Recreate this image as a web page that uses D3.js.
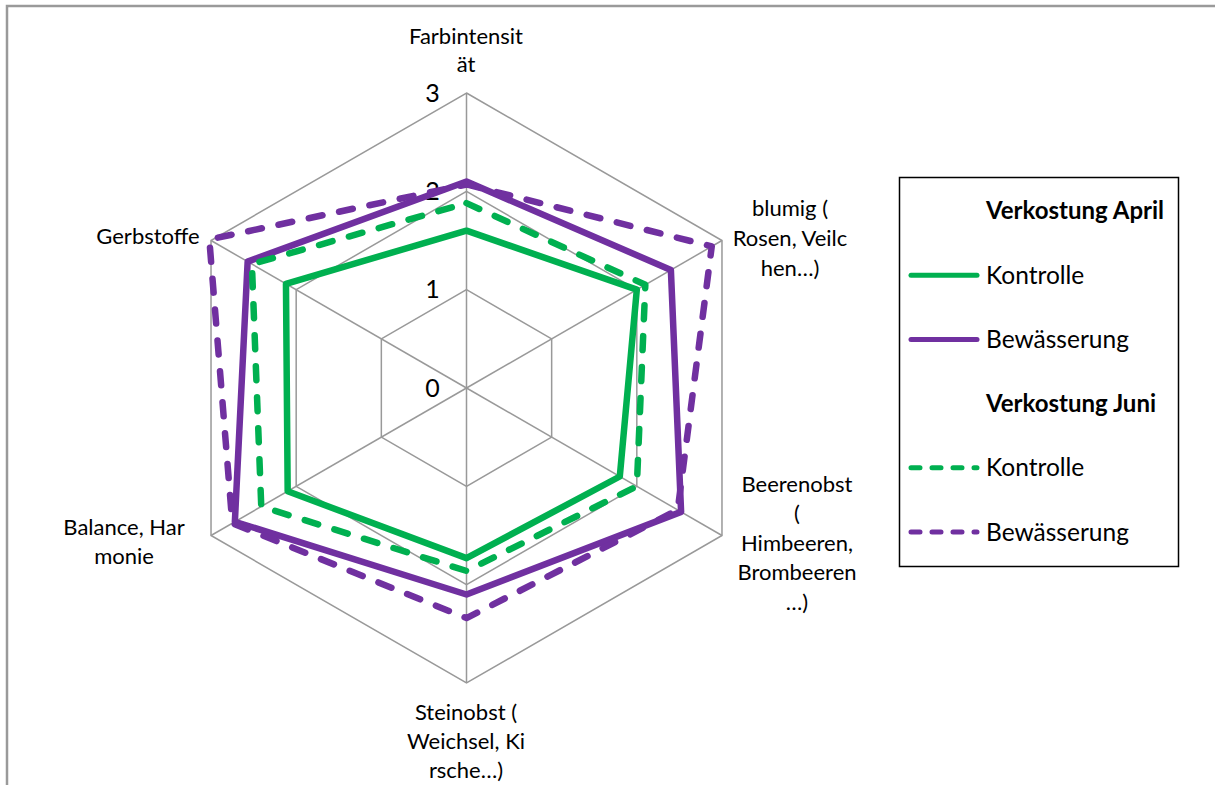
<!DOCTYPE html>
<html>
<head>
<meta charset="utf-8">
<script src="https://cdn.jsdelivr.net/npm/d3@7"></script>
<style>
  body { margin: 0; background: #fff; }
  svg { display: block; font-family: Lato, "Open Sans", sans-serif; }
</style>
</head>
<body>
<svg id="chart" width="1215" height="785"></svg>
<script>
// axis labels, already wrapped like the original
const axisLabels = [
  ['Farbintensit', 'ät'],
  ['blumig (', 'Rosen, Veilc', 'hen…)'],
  ['Beerenobst', '(', 'Himbeeren,', 'Brombeeren', '…)'],
  ['Steinobst (', 'Weichsel, Ki', 'rsche…)'],
  ['Balance, Har', 'monie'],
  ['Gerbstoffe']
];
const ticks = [0, 1, 2, 3];

const kontrolleApril = [1.6, 2.0, 1.8, 1.73, 2.1, 2.12];
const bewaesserungApril = [2.1, 2.4, 2.52, 2.1, 2.72, 2.57];
const kontrolleJuni = [1.88, 2.1, 2.0, 1.86, 2.41, 2.52];
const bewaesserungJuni = [2.07, 2.88, 2.48, 2.34, 2.75, 3.02];

const series = [
  { name: 'Kontrolle', group: 'Verkostung April', values: kontrolleApril, color: '#00b050', dashed: false },
  { name: 'Bewässerung', group: 'Verkostung April', values: bewaesserungApril, color: '#7030a0', dashed: false },
  { name: 'Kontrolle', group: 'Verkostung Juni', values: kontrolleJuni, color: '#00b050', dashed: true },
  { name: 'Bewässerung', group: 'Verkostung Juni', values: bewaesserungJuni, color: '#7030a0', dashed: true }
];

const svg = d3.select('#chart');
const cx = 466.5, cy = 388;
const r = d3.scaleLinear().domain([0, 3]).range([0, 295]);
const angle = d3.scaleLinear().domain([0, axisLabels.length]).range([0, 2 * Math.PI]);

// outer frame (only top and left visible)
svg.append('path')
  .attr('d', 'M7,785 V6 H1215')
  .attr('fill', 'none')
  .attr('stroke', '#9a9a9a')
  .attr('stroke-width', 2.5);

const g = svg.append('g').attr('transform', `translate(${cx},${cy})`);

// grid rings
const ringLine = d3.lineRadial().curve(d3.curveLinearClosed);
g.selectAll('.ring')
  .data(ticks.filter(t => t > 0))
  .join('path')
  .attr('class', 'ring')
  .attr('d', t => ringLine(axisLabels.map((_, i) => [angle(i), r(t)])))
  .attr('fill', 'none')
  .attr('stroke', '#999')
  .attr('stroke-width', 1.5);

// spokes
g.selectAll('.spoke')
  .data(axisLabels)
  .join('line')
  .attr('class', 'spoke')
  .attr('x1', 0).attr('y1', 0)
  .attr('x2', (_, i) => r(3) * Math.sin(angle(i)))
  .attr('y2', (_, i) => -r(3) * Math.cos(angle(i)))
  .attr('stroke', '#999')
  .attr('stroke-width', 1.5);

// tick labels
g.selectAll('.tick')
  .data(ticks)
  .join('text')
  .attr('class', 'tick')
  .attr('x', -34)
  .attr('y', t => -r(t))
  .attr('dy', '0.35em')
  .attr('text-anchor', 'middle')
  .attr('font-size', 25)
  .text(d => d);

// series
g.selectAll('.series')
  .data(series)
  .join('path')
  .attr('class', 'series')
  .attr('d', s => ringLine(s.values.map((v, i) => [angle(i), r(v)])))
  .attr('fill', 'none')
  .attr('stroke', s => s.color)
  .attr('stroke-width', 6.5)
  .attr('stroke-linejoin', 'round')
  .attr('stroke-linecap', 'round')
  .attr('stroke-dasharray', s => s.dashed ? '14,17' : null);

// axis label positions (centre of first line)
const labelPos = [[466, 36], [790, 208], [797, 484], [466, 712], [124, 527], [148, 236]];
const lineH = [28, 30, 29.5, 29, 29, 0];
axisLabels.forEach((lines, i) => {
  const t = svg.append('text')
    .attr('text-anchor', 'middle')
    .attr('font-size', 22)
    .attr('fill', '#000');
  lines.forEach((ln, j) => {
    t.append('tspan')
      .attr('x', labelPos[i][0])
      .attr('y', labelPos[i][1] + j * lineH[i])
      .attr('dy', '0.35em')
      .text(ln);
  });
});

// legend
const legend = svg.append('g');
legend.append('rect')
  .attr('x', 899.5).attr('y', 177.5)
  .attr('width', 279).attr('height', 389)
  .attr('fill', '#fff')
  .attr('stroke', '#000')
  .attr('stroke-width', 1.5);

const legendRows = [];
series.forEach(s => {
  if (!legendRows.find(row => row.header === s.group)) legendRows.push({ header: s.group });
  legendRows.push(s);
});
const rowY = d3.scaleLinear().domain([0, legendRows.length - 1]).range([211, 532]);

legendRows.forEach((row, i) => {
  const y = rowY(i);
  if (row.header) {
    legend.append('text')
      .attr('x', 986).attr('y', y).attr('dy', '0.35em')
      .attr('font-size', 24).attr('font-weight', 'bold')
      .text(row.header);
    return;
  }
  legend.append('line')
    .attr('x1', 911).attr('x2', 977)
    .attr('y1', y).attr('y2', y)
    .attr('stroke', row.color)
    .attr('stroke-width', 5)
    .attr('stroke-linecap', 'round')
    .attr('stroke-dasharray', row.dashed ? '9,12' : null);
  legend.append('text')
    .attr('x', 986).attr('y', y).attr('dy', '0.35em')
    .attr('font-size', 24.5)
    .text(row.name);
});
</script>
</body>
</html>
